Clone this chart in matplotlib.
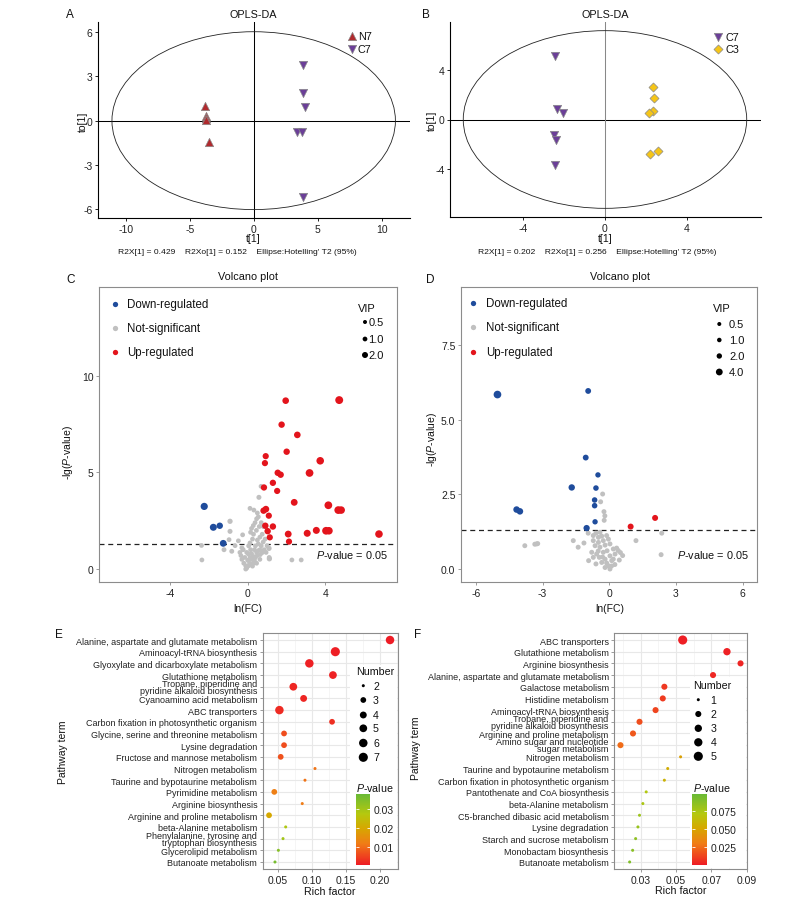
import numpy as np
import matplotlib
matplotlib.use('Agg')
import matplotlib.pyplot as plt
from matplotlib.colors import LinearSegmentedColormap, Normalize
from matplotlib.patches import Ellipse, Rectangle
from matplotlib.cm import ScalarMappable

plt.rcParams['font.family'] = ['Liberation Sans', 'DejaVu Sans']
plt.rcParams['mathtext.fontset'] = 'custom'
plt.rcParams['mathtext.rm'] = 'Liberation Sans'
plt.rcParams['mathtext.it'] = 'Liberation Sans:italic'
plt.rcParams['axes.unicode_minus'] = False

W, H, DPI = 796, 904, 100
PX = 72.0 / DPI

# ---------------- data: panel A (OPLS-DA N7 vs C7) ----------------
a_n7_x = [-3.80, -3.75, -3.75, -3.70, -3.50]
a_n7_y = [1.00, 0.35, 0.15, 0.05, -1.45]
a_c7_x = [3.85, 3.85, 4.00, 3.40, 3.75, 3.85]
a_c7_y = [3.75, 1.85, 0.95, -0.75, -0.75, -5.20]
a_ellipse = (11.07, 6.04)
a_stats = "R2X[1] = 0.429    R2Xo[1] = 0.152    Ellipse:Hotelling' T2 (95%)"
a_xticks = [-10, -5, 0, 5, 10]
a_yticks = [-6, -3, 0, 3, 6]

# ---------------- data: panel B (OPLS-DA C7 vs C3) ----------------
b_c7_x = [-2.43, -2.37, -2.04, -2.48, -2.40, -2.45]
b_c7_y = [5.10, 0.86, 0.52, -1.29, -1.69, -3.65]
b_c3_x = [2.34, 2.40, 2.34, 2.17, 2.58, 2.20]
b_c3_y = [2.66, 1.77, 0.70, 0.52, -2.55, -2.80]
b_ellipse = (6.95, 7.18)
b_stats = "R2X[1] = 0.202    R2Xo[1] = 0.256    Ellipse:Hotelling' T2 (95%)"
b_xticks = [-4, 0, 4]
b_yticks = [-4, 0, 4]

# ---------------- data: panel C (volcano) ----------------
c_up_x = [1.96, 4.72, 1.75, 2.56, 2.01, 0.93, 0.89, 3.74, 1.55, 1.70, 3.19, 1.30, 0.84, 1.52, 2.40, 4.16,
          4.67, 4.82, 0.94, 0.82, 1.09, 0.91, 1.30, 1.03, 1.14, 2.09, 2.13, 3.07, 3.54, 4.04, 4.19, 6.77]
c_up_y = [8.71, 8.74, 7.47, 6.94, 6.07, 5.84, 5.48, 5.60, 4.98, 4.88, 4.97, 4.46, 4.22, 4.04, 3.45, 3.30,
          3.05, 3.05, 3.10, 3.02, 2.76, 2.24, 2.20, 1.96, 1.64, 1.81, 1.42, 1.85, 2.00, 1.98, 1.98, 1.81]
c_up_vip = [2.6, 4.0, 2.4, 2.6, 2.4, 2.2, 2.2, 3.6, 2.4, 2.4, 3.8, 2.3, 2.3, 2.2, 2.8, 3.8,
            3.8, 3.6, 2.6, 2.4, 2.2, 2.4, 2.4, 2.4, 2.2, 2.8, 2.2, 3.0, 3.0, 3.8, 3.6, 3.6]
c_down_x = [-2.24, -1.77, -1.44, -1.26]
c_down_y = [3.24, 2.16, 2.24, 1.33]
c_down_vip = [3.2, 3.0, 2.4, 2.8]
c_ns_x = [-2.38, -2.36, -0.91, -0.91, -1.22, -0.82, -0.96, -0.48, -0.65, -0.26, 0.12, 0.32, 0.58, 0.69, 0.50,
          2.28, 2.76, 1.10, 1.11, 1.12,
          -0.23, -0.05, 0.03, 0.12, 0.20, 0.29, -0.10, -0.05, -0.20, -0.30, -0.35, -0.40, 0.63, 0.70, 0.80,
          0.90, 0.46, 0.50, 0.35, 0.15, 0.20, 0.29, 0.38, 0.46, 0.55, 0.25, 0.30, 0.12, 0.05, 0.75, 0.63,
          0.80, 1.00, 0.95, 0.75, 0.63, 0.46, 0.05, -0.10, -0.30, 0.55, 0.40, 0.35, 0.20, 0.60, 0.70, 0.45,
          0.50, 0.00, 0.10, 0.25, 0.40, 0.85, 0.15, -0.15, 0.55, 0.65, 0.30]
c_ns_y = [1.22, 0.47, 2.47, 1.95, 1.00, 0.92, 1.52, 1.46, 1.21, 1.77, 3.14, 3.05, 3.71, 4.28, 2.90,
          0.47, 0.47, 1.07, 0.60, 0.53,
          1.00, 0.86, 0.78, 0.60, 0.50, 0.30, 0.17, 0.05, 0.30, 0.50, 0.70, 0.86, 1.00, 1.20, 1.40,
          1.55, 0.86, 0.70, 0.45, 1.90, 2.10, 2.25, 2.40, 2.60, 2.70, 1.55, 1.80, 1.35, 1.20, 1.80, 1.65,
          2.20, 1.20, 0.86, 0.85, 0.50, 0.30, 0.17, 0.00, 1.10, 1.30, 1.20, 1.00, 0.80, 2.20, 2.40, 2.00,
          1.50, 0.45, 0.30, 0.15, 0.60, 1.00, 1.00, 0.60, 0.95, 0.75, 0.65]
c_ns_vip = [1.0, 1.0, 1.4, 1.2, 1.1, 1.1, 1.0, 1.0, 1.0, 1.0, 1.0, 1.0, 1.2, 1.0, 1.0,
            1.0, 1.0, 1.4, 1.0, 1.4] + [1.0] * 58
c_xticks = [-4, 0, 4]
c_yticks = [0, 5, 10]
c_vip_legend = [0.5, 1.0, 2.0]

# ---------------- data: panel D (volcano) ----------------
d_up_x = [0.96, 2.06]
d_up_y = [1.42, 1.71]
d_up_vip = [2.8, 2.8]
d_down_x = [-5.03, -0.95, -1.06, -0.51, -1.69, -0.60, -0.66, -0.66, -4.17, -4.02, -0.64, -1.02]
d_down_y = [5.84, 5.96, 3.73, 3.15, 2.73, 2.71, 2.31, 2.12, 1.99, 1.93, 1.58, 1.37]
d_down_vip = [5.5, 2.6, 2.6, 2.0, 3.4, 2.2, 2.2, 2.2, 3.6, 3.6, 2.0, 3.2]
d_ns_x = [-3.80, -3.35, -3.27, -3.22, -1.62, -1.14, -1.40, 1.20, 2.36, 2.33, -0.93, -0.60, -0.30, -0.39,
          -0.24, -0.20, -0.23, -0.95, -0.60, -0.42,
          -0.72, -0.49, -0.34, -0.12, -0.72, -0.49, -0.27, -0.04, -0.64, -0.42, -0.19, 0.03, -0.79, -0.57,
          -0.27, -0.10, 0.18, 0.33, -0.72, -0.45, -0.19, 0.03, 0.26, -0.34, -0.12, 0.11, -0.04, -0.19, 0.03,
          0.18, 0.50, 0.60, 0.45, 0.25, 0.10, -0.50, 0.40, -0.30]
d_ns_y = [0.78, 0.83, 0.84, 0.85, 0.95, 0.87, 0.73, 0.95, 1.20, 0.48, 0.28, 0.17, 2.51, 2.25,
          1.92, 1.78, 1.63, 1.20, 1.20, 1.23,
          1.12, 1.06, 1.10, 1.12, 0.95, 0.89, 0.95, 1.00, 0.78, 0.73, 0.80, 0.84, 0.56, 0.50,
          0.56, 0.61, 0.67, 0.70, 0.39, 0.39, 0.33, 0.44, 0.50, 0.22, 0.20, 0.28, 0.11, 0.05, 0.00,
          0.33, 0.55, 0.45, 0.30, 0.15, 0.10, 0.60, 0.62, 0.40]
d_ns_vip = [1.5] * 58
d_xticks = [-6, -3, 0, 3, 6]
d_yticks = [0.0, 2.5, 5.0, 7.5]
d_vip_legend = [0.5, 1.0, 2.0, 4.0]

# ---------------- data: panel E (KEGG enrichment) ----------------
e_terms = ["Alanine, aspartate and glutamate metabolism", "Aminoacyl-tRNA biosynthesis",
           "Glyoxylate and dicarboxylate metabolism", "Glutathione metabolism",
           "Tropane, piperidine and\npyridine alkaloid biosynthesis", "Cyanoamino acid metabolism",
           "ABC transporters", "Carbon fixation in photosynthetic organism",
           "Glycine, serine and threonine metabolism", "Lysine degradation",
           "Fructose and mannose metabolism", "Nitrogen metabolism",
           "Taurine and bypotaurine metabolism", "Pyrimidine metabolism", "Arginine biosynthesis",
           "Arginine and proline metabolism", "beta-Alanine metabolism",
           "Phenylalanine, tyrosine and\ntryptophan biosynthesis", "Glycerolipid metabolism",
           "Butanoate metabolism"]
e_rich = [0.2147, 0.1345, 0.0964, 0.1310, 0.0729, 0.0880, 0.0525, 0.1297, 0.0593, 0.0593,
          0.0544, 0.1047, 0.0900, 0.0450, 0.0860, 0.0373, 0.0617, 0.0578, 0.0510, 0.0460]
e_number = [6, 7, 6, 5, 5, 4, 6, 3, 3, 3, 3, 2, 2, 3, 2, 3, 2, 2, 2, 2]
e_pvalue = [0.0008, 0.0010, 0.0012, 0.0015, 0.0020, 0.0020, 0.0025, 0.0030, 0.0065, 0.0065,
            0.0070, 0.0110, 0.0110, 0.0125, 0.0120, 0.0200, 0.0285, 0.0300, 0.0340, 0.0360]
e_xticks = [0.05, 0.10, 0.15, 0.20]
e_xticklabels = ["0.05", "0.10", "0.15", "0.20"]
e_num_legend = [2, 3, 4, 5, 6, 7]
e_cbar_ticks = [0.01, 0.02, 0.03]
e_cbar_labels = ["0.01", "0.02", "0.03"]

# ---------------- data: panel F (KEGG enrichment) ----------------
f_terms = ["ABC transporters", "Glutathione metabolism", "Arginine biosynthesis",
           "Alanine, aspartate and glutamate metabolism", "Galactose metabolism", "Histidine metabolism",
           "Aminoacyl-tRNA biosynthesis", "Tropane, piperidine and\npyridine alkaloid biosynthesis",
           "Arginine and proline metabolism", "Amino sugar and nucleotide\nsugar metabolism",
           "Nitrogen metabolism", "Taurine and bypotaurine metabolism",
           "Carbon fixation in photosynthetic organism", "Pantothenate and CoA biosynthesis",
           "beta-Alanine metabolism", "C5-branched dibasic acid metabolism", "Lysine degradation",
           "Starch and sucrose metabolism", "Monobactam biosynthesis", "Butanoate metabolism"]
f_rich = [0.0538, 0.0789, 0.0866, 0.0710, 0.0434, 0.0425, 0.0384, 0.0293, 0.0256, 0.0185,
          0.0526, 0.0453, 0.0434, 0.0331, 0.0312, 0.0293, 0.0284, 0.0271, 0.0254, 0.0237]
f_number = [5, 3, 2, 2, 2, 2, 2, 2, 2, 2, 1, 1, 1, 1, 1, 1, 1, 1, 1, 1]
f_pvalue = [0.001, 0.002, 0.003, 0.004, 0.009, 0.010, 0.013, 0.016, 0.019, 0.025,
            0.048, 0.055, 0.058, 0.072, 0.075, 0.080, 0.082, 0.085, 0.087, 0.090]
f_xticks = [0.03, 0.05, 0.07, 0.09]
f_xticklabels = ["0.03", "0.05", "0.07", "0.09"]
f_num_legend = [1, 2, 3, 4, 5]
f_cbar_ticks = [0.025, 0.050, 0.075]
f_cbar_labels = ["0.025", "0.050", "0.075"]

# ---------------- styles ----------------
COL_N7, COL_C7, COL_C3 = '#B02A2E', '#6B3F98', '#F5C518'
COL_UP, COL_DOWN, COL_NS = '#E3141C', '#1F4C9C', '#C0C0C0'
BORDER = '#8C8C8C'
cmap = LinearSegmentedColormap.from_list('pv', [(0.0, '#EE1C25'), (0.3, '#F07C16'), (0.52, '#D6A800'),
                                                (0.72, '#B5C80E'), (1.0, '#69BA36')])

fig = plt.figure(figsize=(W / DPI, H / DPI), dpi=DPI)


def rect(l, t, r, b):
    return [l / W, 1 - b / H, (r - l) / W, (b - t) / H]


def s_from_d(d):
    return (np.asarray(d) * PX) ** 2


def vip_d_c(v):
    return np.sqrt(9.3 + 13.3 * np.asarray(v, float))


def vip_d_d(v):
    return np.sqrt(11.7 + 8.63 * np.asarray(v, float))


def num_d(n, nmin, nmax):
    size = 1 + 5 * np.sqrt((np.asarray(n, float) - nmin) / (nmax - nmin))
    return 1.8 + 1.22 * size


# ---------------- OPLS-DA panels ----------------
def opls(box, xlim, ylim, xticks, yticks, ell, vline_col):
    ax = fig.add_axes(rect(*box))
    ax.set_xlim(*xlim)
    ax.set_ylim(*ylim)
    for sp in ['top', 'right']:
        ax.spines[sp].set_visible(False)
    for sp in ['left', 'bottom']:
        ax.spines[sp].set_linewidth(0.8)
    ax.set_xticks(xticks)
    ax.set_yticks(yticks)
    ax.tick_params(length=2.5, width=0.7, labelsize=7.5, pad=1.5, colors='#222222')
    ax.axhline(0, color='black', lw=0.75, zorder=1)
    ax.axvline(0, color=vline_col, lw=0.75, zorder=1)
    ax.add_patch(Ellipse((0, 0), 2 * ell[0], 2 * ell[1], fill=False, ec='#222222', lw=0.6, zorder=1))
    return ax


axA = opls((98, 23, 410, 219), (-12.16, 12.21), (-6.61, 6.70), a_xticks, a_yticks, a_ellipse, 'black')
axA.scatter(a_n7_x, a_n7_y, marker='^', s=(6.0) ** 2, c=COL_N7, edgecolors='#8a8a8a', linewidths=0.5, zorder=3)
axA.scatter(a_c7_x, a_c7_y, marker='v', s=(6.0) ** 2, c=COL_C7, edgecolors='#8a8a8a', linewidths=0.5, zorder=3)

axB = opls((450, 23, 761, 218), (-7.6, 7.65), (-7.88, 7.88), b_xticks, b_yticks, b_ellipse, '#888888')
axB.scatter(b_c7_x, b_c7_y, marker='v', s=(6.0) ** 2, c=COL_C7, edgecolors='#8a8a8a', linewidths=0.5, zorder=3)
axB.scatter(b_c3_x, b_c3_y, marker='D', s=(4.6) ** 2, c=COL_C3, edgecolors='#8a8a8a', linewidths=0.5, zorder=3)


# ---------------- volcano panels ----------------
def volcano(box, xlim, ylim, xticks, yticks, yfmt):
    ax = fig.add_axes(rect(*box))
    ax.set_xlim(*xlim)
    ax.set_ylim(*ylim)
    for sp in ax.spines.values():
        sp.set_color(BORDER)
        sp.set_linewidth(0.8)
    ax.set_xticks(xticks)
    ax.set_yticks(yticks)
    ax.set_yticklabels([yfmt.format(v) for v in yticks])
    ax.tick_params(length=2.5, width=0.6, color=BORDER, labelsize=7.5, pad=1.5, labelcolor='#222222')
    ax.axhline(-np.log10(0.05), color='#222222', lw=0.9, ls=(0, (4, 3)), zorder=1)
    return ax


axC = volcano((99.3, 288, 397.4, 583), (-7.65, 7.72), (-0.67, 14.59), c_xticks, c_yticks, '{:g}')
axC.scatter(c_ns_x, c_ns_y, s=s_from_d(vip_d_c(c_ns_vip)), c=COL_NS, lw=0, zorder=2)
axC.scatter(c_down_x, c_down_y, s=s_from_d(vip_d_c(c_down_vip)), c=COL_DOWN, lw=0, zorder=3)
axC.scatter(c_up_x, c_up_y, s=s_from_d(vip_d_c(c_up_vip)), c=COL_UP, lw=0, zorder=3)

axD = volcano((461, 288.3, 756.7, 583), (-6.67, 6.63), (-0.435, 9.43), d_xticks, d_yticks, '{:.1f}')
axD.scatter(d_ns_x, d_ns_y, s=s_from_d(vip_d_d(d_ns_vip)), c=COL_NS, lw=0, zorder=2)
axD.scatter(d_down_x, d_down_y, s=s_from_d(vip_d_d(d_down_vip)), c=COL_DOWN, lw=0, zorder=3)
axD.scatter(d_up_x, d_up_y, s=s_from_d(vip_d_d(d_up_vip)), c=COL_UP, lw=0, zorder=3)


# ---------------- enrichment panels ----------------
def enrich(box, terms, rich, number, pval, xlim, xticks, xticklabels, minor, vmin, vmax, nmin, nmax, legbox):
    ax = fig.add_axes(rect(*box))
    n = len(terms)
    ypos = np.arange(n)[::-1]
    ax.set_ylim(-0.6, n - 0.4)
    ax.set_xlim(*xlim)
    ax.set_yticks(ypos)
    ax.set_yticklabels(terms, fontsize=6.5, linespacing=0.7)
    ax.set_xticks(xticks)
    ax.set_xticklabels(xticklabels)
    ax.set_xticks(minor, minor=True)
    ax.tick_params(axis='x', which='minor', length=0)
    ax.tick_params(which='major', length=2.5, width=0.6, color=BORDER, labelsize=7.5, pad=1.5,
                   labelcolor='#222222')
    ax.tick_params(axis='y', labelsize=6.5, labelcolor='#222222')
    for sp in ax.spines.values():
        sp.set_color(BORDER)
        sp.set_linewidth(0.8)
    ax.set_axisbelow(True)
    ax.grid(which='major', color='#E8E8E8', lw=0.8)
    ax.grid(which='minor', axis='x', color='#F2F2F2', lw=0.5)
    # white legend background overlapping the panel
    x0 = (legbox[0] - box[0]) / (box[2] - box[0])
    y0 = 1 - (legbox[3] - box[1]) / (box[3] - box[1])
    y1 = 1 - (legbox[1] - box[1]) / (box[3] - box[1])
    ax.add_patch(Rectangle((x0, y0), 0.995 - x0, y1 - y0, transform=ax.transAxes, fc='white', ec='none',
                           zorder=1.5))
    ax.scatter(rich, ypos, s=s_from_d(num_d(number, nmin, nmax)), c=pval, cmap=cmap,
               norm=Normalize(vmin, vmax), lw=0, zorder=3)
    return ax


axE = enrich((262.7, 634, 398, 870), e_terms, e_rich, e_number, e_pvalue, (0.028, 0.2264), e_xticks,
             e_xticklabels, [0.075, 0.125, 0.175, 0.225], 0.0007, 0.038, 2, 7, (350, 666, 398, 869))
axF = enrich((614.3, 634, 746.7, 870), f_terms, f_rich, f_number, f_pvalue, (0.0150, 0.0901), f_xticks,
             f_xticklabels, [0.02, 0.04, 0.06, 0.08], 0.0002, 0.099, 1, 5, (690, 678, 746.7, 869))


def colorbar(box, vmin, vmax, ticks, labels):
    cax = fig.add_axes(rect(*box))
    sm = ScalarMappable(norm=Normalize(vmin, vmax), cmap=cmap)
    cb = fig.colorbar(sm, cax=cax)
    cb.outline.set_visible(False)
    cb.set_ticks(ticks)
    cb.set_ticklabels(labels)
    cax.tick_params(length=2.5, width=0.6, color='white', direction='in', labelsize=7.5, pad=2.5,
                    left=True, right=True, labelcolor='#222222')


colorbar((356, 795, 370, 866), 0.0007, 0.038, e_cbar_ticks, e_cbar_labels)
colorbar((692, 795, 706.7, 866), 0.0002, 0.099, f_cbar_ticks, f_cbar_labels)

# ---------------- overlay for titles, labels and legends (pixel coordinates) ----------------
ov = fig.add_axes([0, 0, 1, 1])
ov.set_xlim(0, W)
ov.set_ylim(H, 0)
ov.axis('off')


def t(x, y, s, size=7.5, ha='left', va='center', **kw):
    ov.text(x, y, s, fontsize=size, ha=ha, va=va, color='#111111', **kw)


# panel letters
for (x, y, s) in [(66, 15, 'A'), (422, 15, 'B'), (66, 280, 'C'), (426, 280, 'D'), (55, 635, 'E'), (414, 635, 'F')]:
    t(x, y, s, size=8.5)

# A / B titles & labels
t(253.7, 15, 'OPLS-DA', size=7.8, ha='center')
t(605, 15, 'OPLS-DA', size=7.8, ha='center')
t(253.7, 239, 't[1]', size=7.5, ha='center')
t(605, 239, 't[1]', size=7.5, ha='center')
t(82.7, 121.7, 'to[1]', size=7.5, ha='center', rotation=90)
t(431.7, 120.5, 'to[1]', size=7.5, ha='center', rotation=90)
t(118, 253, a_stats, size=6.1)
t(478, 253, b_stats, size=6.1)
# A / B legends
ov.scatter([352], [37], marker='^', s=36, c=COL_N7, edgecolors='#8a8a8a', linewidths=0.5)
ov.scatter([352], [50], marker='v', s=36, c=COL_C7, edgecolors='#8a8a8a', linewidths=0.5)
t(358, 37, 'N7', size=7.8)
t(358, 50, 'C7', size=7.8)
ov.scatter([718], [38], marker='v', s=36, c=COL_C7, edgecolors='#8a8a8a', linewidths=0.5)
ov.scatter([718], [50], marker='D', s=(4.6) ** 2, c=COL_C3, edgecolors='#8a8a8a', linewidths=0.5)
t(725, 38, 'C7', size=7.8)
t(725, 50, 'C3', size=7.8)

# volcano titles, labels, legends
cat_names = ['Down-regulated', 'Not-significant', 'Up-regulated']
cat_cols = [COL_DOWN, COL_NS, COL_UP]
for (cx, tx, ys, title_x, pv_x, vipx, vipdx, viplx, vipys, vipvals, dfun) in [
        (115, 127, [305, 329, 353], 248, 388, 358, 365, 368.5, [323, 340, 356], c_vip_legend, vip_d_c),
        (473, 486, [304, 328, 353], 620, 749, 713, 719.3, 729, [325, 341, 357, 373], d_vip_legend, vip_d_d)]:
    t(title_x, 277, 'Volcano plot', size=7.8, ha='center')
    for y, name, col in zip(ys, cat_names, cat_cols):
        ov.scatter([cx], [y], s=s_from_d(5.3), c=col, lw=0)
        t(tx, y, name, size=8.3)
    t(vipx, 309, 'VIP', size=8)
    ov.scatter([vipdx] * len(vipys), vipys, s=s_from_d(dfun(vipvals)), c='black', lw=0)
    for y, v in zip(vipys, vipvals):
        t(viplx, y, '{:.1f}'.format(v), size=8)
    t(pv_x, 555, '$P$-value = 0.05', size=7.8, ha='right')
t(248, 609, 'ln(FC)', size=7.5, ha='center')
t(609.3, 609, 'ln(FC)', size=7.5, ha='center')
t(68, 453, '-lg($P$-value)', size=7.5, ha='center', rotation=90)
t(432, 440, '-lg($P$-value)', size=7.5, ha='center', rotation=90)

# enrichment labels and legends
t(330, 892, 'Rich factor', size=7.7, ha='center')
t(680.5, 891, 'Rich factor', size=7.7, ha='center')
t(63, 752, 'Pathway term', size=7.5, ha='center', rotation=90)
t(416, 748, 'Pathway term', size=7.5, ha='center', rotation=90)

t(356, 672, 'Number', size=7.7)
e_leg_y = [686.7, 701, 716, 729.3, 744, 758.3]
ov.scatter([363.3] * 6, e_leg_y, s=s_from_d(num_d(e_num_legend, 2, 7)), c='black', lw=0)
for y, v in zip(e_leg_y, e_num_legend):
    t(373, y, str(v), size=7.7)
t(356, 788, '$P$-value', size=7.7)

t(692.7, 686, 'Number', size=7.7)
f_leg_y = [700.7, 715, 729.3, 743.3, 757.3]
ov.scatter([698.3] * 5, f_leg_y, s=s_from_d(num_d(f_num_legend, 1, 5)), c='black', lw=0)
for y, v in zip(f_leg_y, f_num_legend):
    t(710.7, y, str(v), size=7.7)
t(692.7, 788, '$P$-value', size=7.7)

fig.savefig('out.png', dpi=DPI)
